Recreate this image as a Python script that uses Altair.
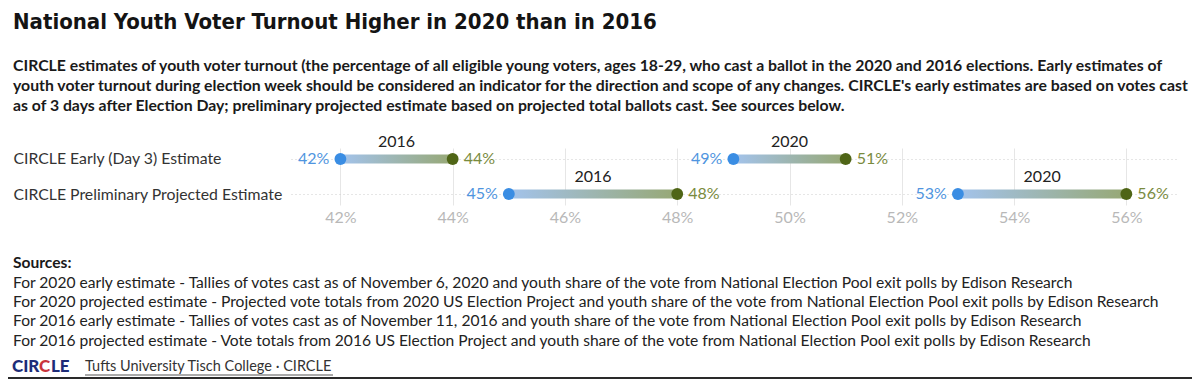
import altair as alt
import pandas as pd

TITLE = "National Youth Voter Turnout Higher in 2020 than in 2016"
SUBTITLE_LINES = [
    "CIRCLE estimates of youth voter turnout (the percentage of all eligible young voters, ages 18-29, who cast a ballot in the 2020 and 2016 elections. Early estimates of",
    "youth voter turnout during election week should be considered an indicator for the direction and scope of any changes. CIRCLE's early estimates are based on votes cast",
    "as of 3 days after Election Day; preliminary projected estimate based on projected total ballots cast. See sources below.",
]
ROWS = ["CIRCLE Early (Day 3) Estimate", "CIRCLE Preliminary Projected Estimate"]
ROW_OF = [ROWS[0], ROWS[0], ROWS[1], ROWS[1]]
YEARS = ["2016", "2020", "2016", "2020"]
START = [42, 49, 45, 53]
END = [44, 51, 48, 56]
TICKS = [42, 44, 46, 48, 50, 52, 54, 56]
SOURCES_HEAD = "Sources:"
SOURCES = [
    "For 2020 early estimate - Tallies of votes cast as of November 6, 2020 and youth share of the vote from National Election Pool exit polls by Edison Research",
    "For 2020 projected estimate - Projected vote totals from 2020 US Election Project and youth share of the vote from National Election Pool exit polls by Edison Research",
    "For 2016 early estimate - Tallies of votes cast as of November 11, 2016 and youth share of the vote from National Election Pool exit polls by Edison Research",
    "For 2016 projected estimate - Vote totals from 2016 US Election Project and youth share of the vote from National Election Pool exit polls by Edison Research",
]
LOGO_PARTS = ["CIR", "C", "LE"]
FOOTER = "Tufts University Tisch College \u00b7 CIRCLE"

df = pd.DataFrame({"row": ROW_OF, "year": YEARS, "start": START, "end": END})

FONT = "Lato"
TITLE_FONT = "DejaVu Sans Condensed, Lato, sans-serif"
BLUE_DOT = "#3a8de3"
OLIVE_DOT = "#4f6516"
BLUE_TXT = "#4f95e0"
OLIVE_TXT = "#7a8b3e"

x_scale = alt.Scale(domain=[41.12, 56.92], nice=False, zero=False)
x_axis = alt.Axis(
    title=None, values=TICKS, labelExpr="datum.value + '%'", grid=True,
    gridColor="#e6e6e6", domain=False, ticks=False, labelColor="#b8b8b8",
    labelFont=FONT, labelFontSize=16, labelPadding=4,
)
y_axis = alt.Axis(
    title=None, domain=False, ticks=False, labelAlign="left", labelPadding=278,
    labelFont=FONT, labelFontSize=15.8, labelColor="#333333", labelLimit=400,
    grid=True, gridDash=[1, 3], gridColor="#cccccc",
)
y_enc = alt.Y("row:N", sort=ROWS, scale=alt.Scale(type="point", padding=0.314), axis=y_axis)

base = alt.Chart(df)

grad = alt.Gradient(
    gradient="linear",
    stops=[alt.GradientStop(color="#a3c3ec", offset=0), alt.GradientStop(color="#97a875", offset=1)],
    x1=0, x2=1, y1=0, y2=0,
)

bars = base.mark_bar(height=9, cornerRadius=4.5, color=grad).encode(
    x=alt.X("start:Q", scale=x_scale, axis=x_axis), x2="end:Q", y=y_enc
)
p_start = base.mark_circle(size=140, opacity=1, color=BLUE_DOT).encode(
    x=alt.X("start:Q", scale=x_scale), y=alt.Y("row:N", sort=ROWS)
)
p_end = base.mark_circle(size=140, opacity=1, color=OLIVE_DOT).encode(
    x=alt.X("end:Q", scale=x_scale), y=alt.Y("row:N", sort=ROWS)
)
t_start = base.mark_text(align="right", baseline="middle", dx=-11, font=FONT, fontSize=16, color=BLUE_TXT).encode(
    x=alt.X("start:Q", scale=x_scale), y=alt.Y("row:N", sort=ROWS), text=alt.Text("label_s:N")
).transform_calculate(label_s="datum.start + '%'")
t_end = base.mark_text(align="left", baseline="middle", dx=11, font=FONT, fontSize=16, color=OLIVE_TXT).encode(
    x=alt.X("end:Q", scale=x_scale), y=alt.Y("row:N", sort=ROWS), text=alt.Text("label_e:N")
).transform_calculate(label_e="datum.end + '%'")
t_year = base.mark_text(align="center", baseline="middle", dy=-17, font=FONT, fontSize=16, color="#222222").encode(
    x=alt.X("mid:Q", scale=x_scale), y=alt.Y("row:N", sort=ROWS), text="year:N"
).transform_calculate(mid="(datum.start + datum.end) / 2")

# page coordinate -> plot coordinate helpers (plot origin at page x=291, y=148)
OX, OY = 291, 148


def txt(t, px, py, **kw):
    opts = dict(align="left", baseline="middle", font=FONT, fontSize=15, color="#333333")
    opts.update(kw)
    return alt.Chart(pd.DataFrame({"t": [t]})).mark_text(**opts).encode(
        x=alt.value(px - OX), y=alt.value(py - OY), text="t:N"
    )


layers = [bars, p_start, p_end, t_start, t_end, t_year]
layers.append(txt(TITLE, 13, 22, font=TITLE_FONT, fontWeight="bold", fontSize=22, color="#141414"))
for i, line in enumerate(SUBTITLE_LINES):
    layers.append(txt(line, 13, 66 + i * 20, fontWeight="bold", fontSize=15.8, color="#1a1a1a"))
layers.append(txt(SOURCES_HEAD, 13, 263, fontWeight="bold", fontSize=15.6, color="#1a1a1a"))
for i, line in enumerate(SOURCES):
    layers.append(txt(line, 13, 283 + i * 19.2, fontSize=15.6, color="#222222"))

# footer logo + link
layers.append(txt(LOGO_PARTS[0], 12, 367, fontWeight=900, fontSize=17, color="#1d2c78"))
layers.append(txt(LOGO_PARTS[1], 39, 367, fontWeight=900, fontSize=17, color="#c9343c"))
layers.append(txt(LOGO_PARTS[2], 51, 367, fontWeight=900, fontSize=17, color="#1d2c78"))
layers.append(txt(FOOTER, 85, 367, fontSize=14.5, color="#333333"))
dummy = pd.DataFrame({"k": [0]})
layers.append(alt.Chart(dummy).mark_rule(color="#555555", strokeWidth=1).encode(
    x=alt.value(85 - OX), x2=alt.value(333 - OX), y=alt.value(375 - OY)))
layers.append(alt.Chart(dummy).mark_rule(color="#2a2a2a", strokeWidth=2).encode(
    x=alt.value(8 - OX), x2=alt.value(1192 - OX), y=alt.value(378 - OY)))

chart = alt.layer(*layers).properties(
    width=887, height=57,
    autosize=alt.AutoSizeParams(type="none"),
    padding={"left": 283, "top": 140, "right": 14, "bottom": 174},
).configure_view(stroke=None)

chart.save("out.html", embed_options={"renderer": "svg", "actions": False})
